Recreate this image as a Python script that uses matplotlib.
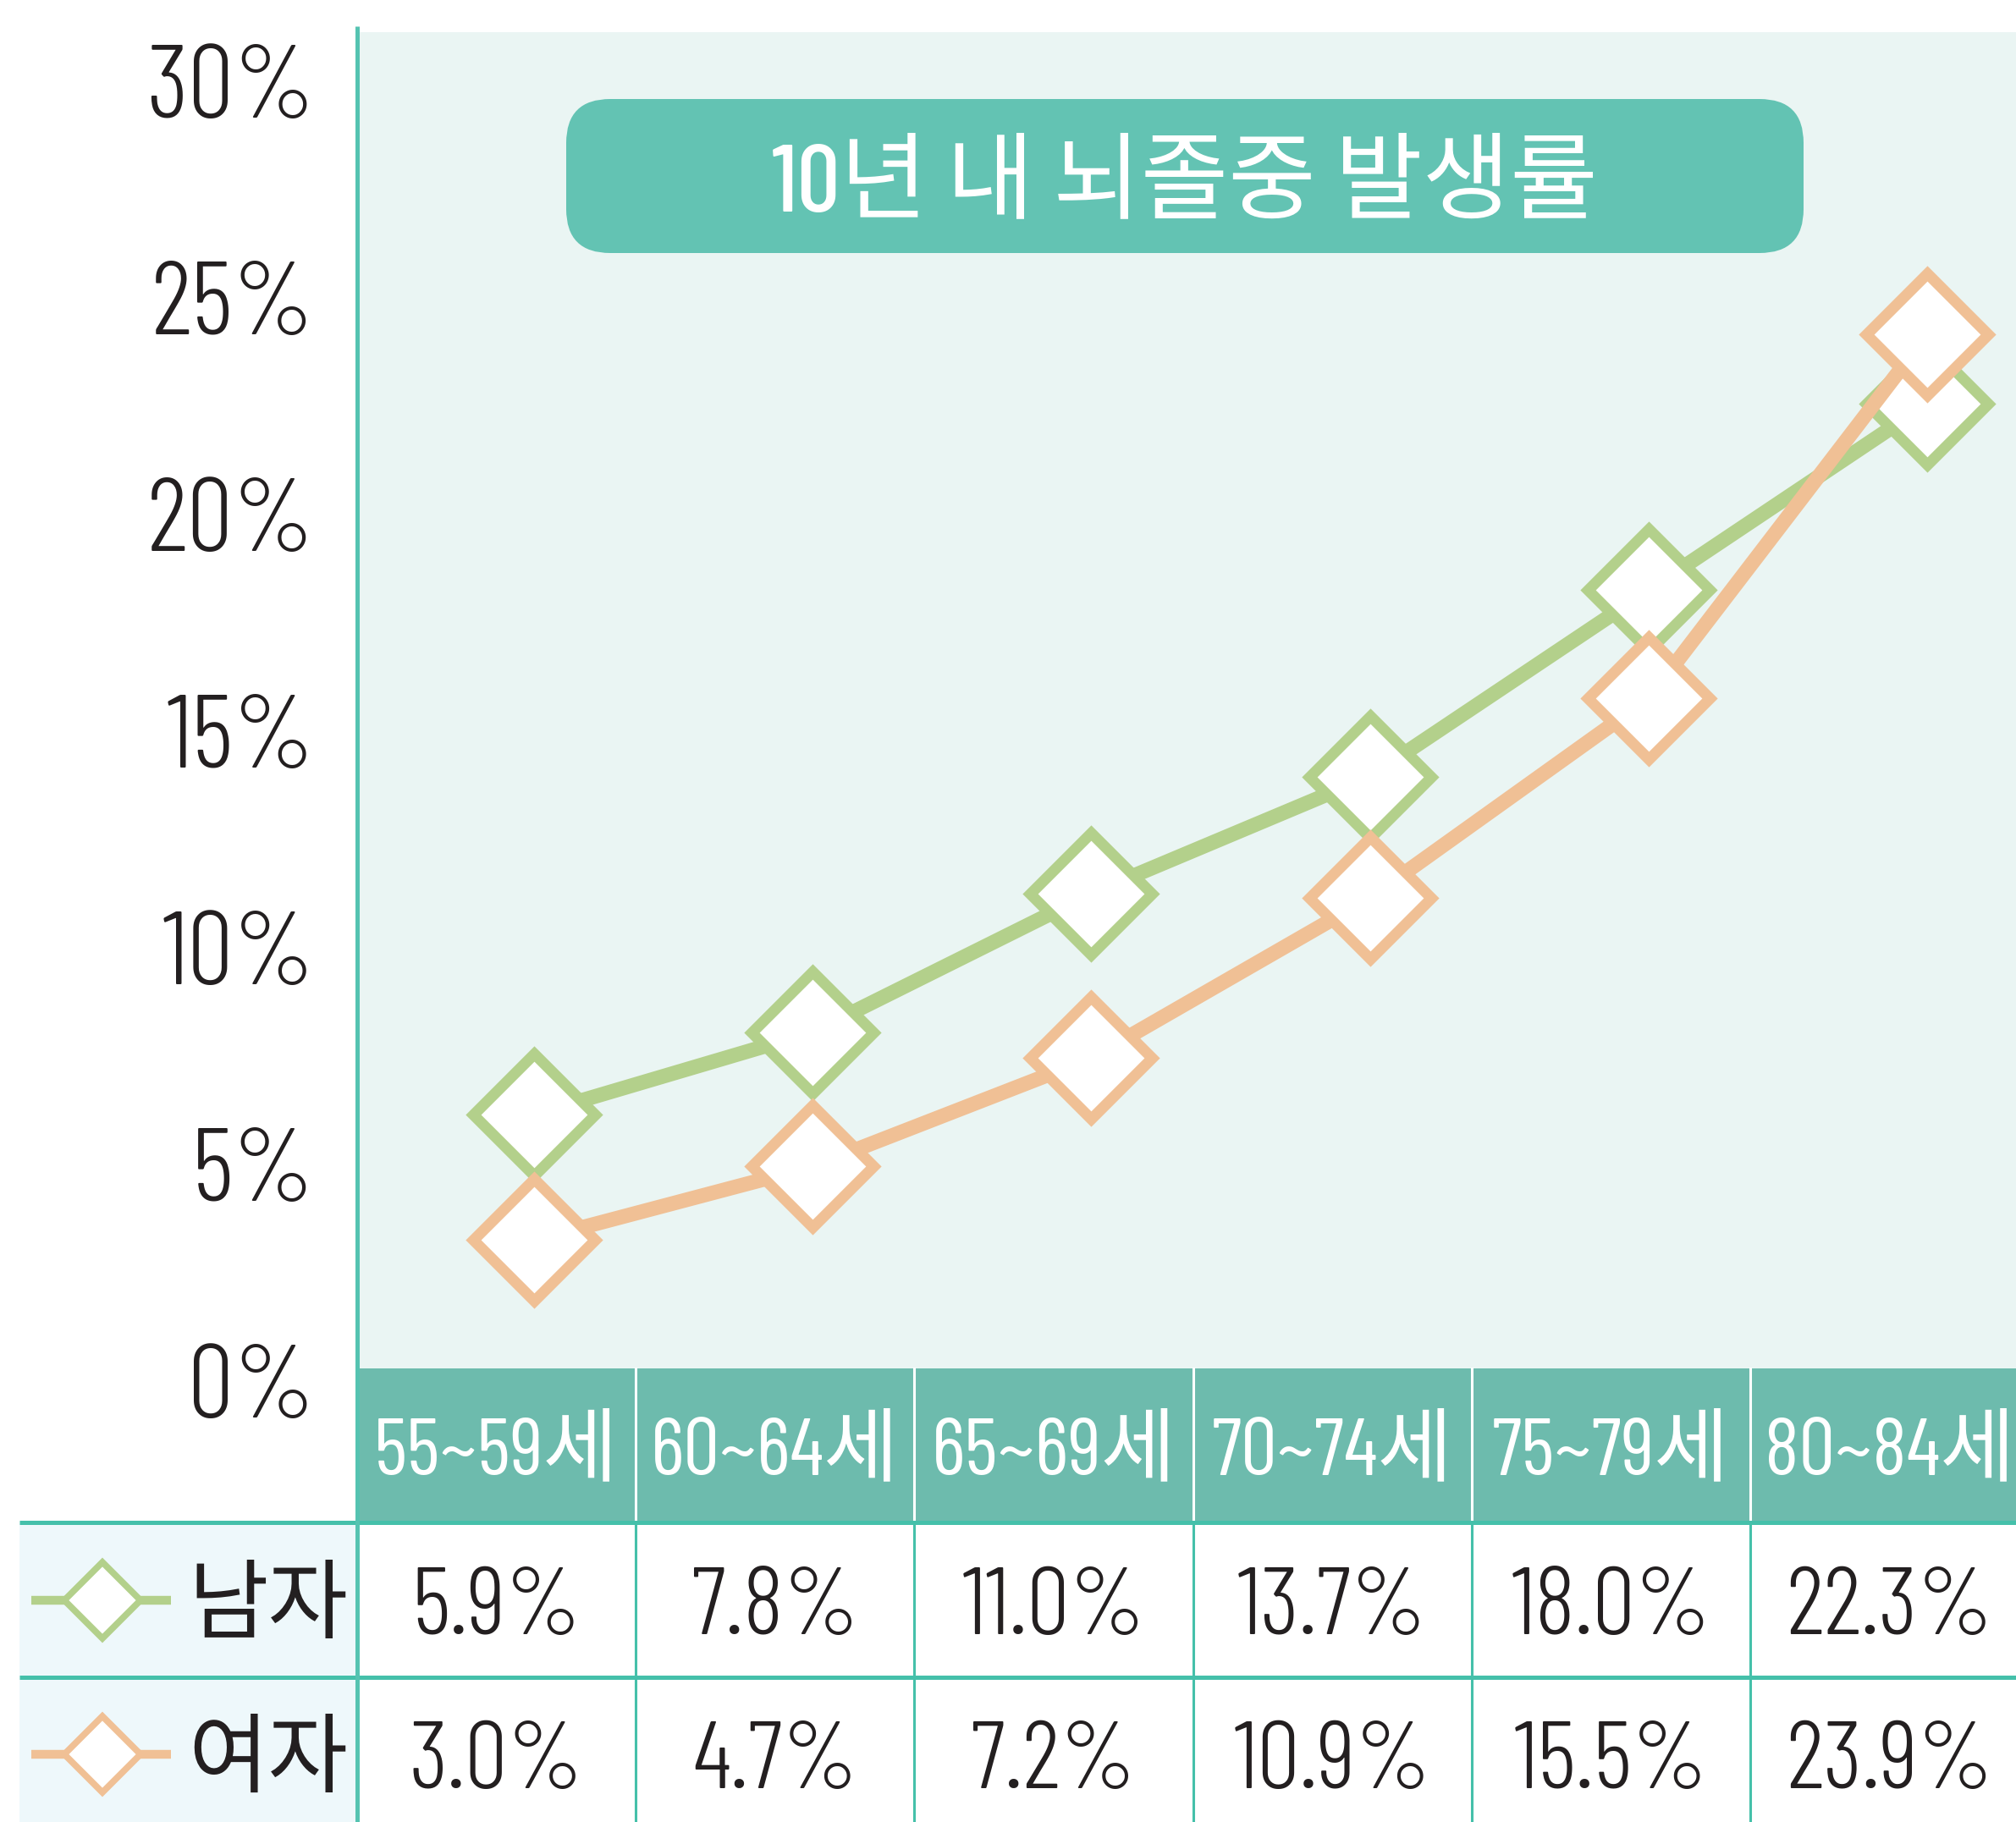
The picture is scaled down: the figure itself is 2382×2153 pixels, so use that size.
import logging
import matplotlib
matplotlib.use("Agg")
import matplotlib.pyplot as plt
from matplotlib.patches import Rectangle, FancyBboxPatch
from matplotlib.transforms import blended_transform_factory, ScaledTranslation

logging.getLogger("matplotlib.font_manager").setLevel(logging.ERROR)

# ---------------- data ----------------
age_groups = ["55~59세", "60~64세", "65~69세", "70~74세", "75~79세", "80~84세"]
male = [5.9, 7.8, 11.0, 13.7, 18.0, 22.3]
female = [3.0, 4.7, 7.2, 10.9, 15.5, 23.9]
series_names = ["남자", "여자"]
y_ticks = [0, 5, 10, 15, 20, 25, 30]
y_tick_labels = ["0%", "5%", "10%", "15%", "20%", "25%", "30%"]
title_text = "10년 내 뇌졸중 발생률"

# ---------------- style ----------------
GREEN = "#b3d08b"
ORANGE = "#f0c095"
PLOT_BG = "#eaf5f3"
HEADER_BG = "#6dbbad"
TEAL_LINE = "#45c0aa"
AXIS_LINE = "#55c3b1"
LEFT_BG = "#eef8fb"
TITLE_BG = "#63c3b3"
TEXT = "#231f20"

FONT = ["Barlow Condensed", "Noto Sans CJK KR", "Noto Sans CJK JP", "Noto Sans KR", "DejaVu Sans"]
KFONT = ["Noto Sans CJK KR", "Noto Sans CJK JP", "Noto Sans KR", "DejaVu Sans"]

W, H, DPI = 2382, 2153, 100
X0 = 422          # left edge of plot / table columns (px)
COLW = 329.2      # column width (px)
PLOT_TOP = 38
ZERO_Y = 1619     # pixel row of 0 %
PX_PER_PCT = 51.2
HEAD_TOP = 1617
HEAD_BOT = 1799
ROW1_BOT = 1982
TABLE_LEFT = 23
ROW_CENTERS = [1891, 2073]

fig = plt.figure(figsize=(W / DPI, H / DPI), dpi=DPI)
fig.patch.set_facecolor("white")

# ---------------- plot axes ----------------
ax = fig.add_axes([X0 / W, 1 - ZERO_Y / H, 1 - X0 / W, (ZERO_Y - PLOT_TOP) / H], zorder=1)
ax.set_facecolor(PLOT_BG)
ax.set_xlim(0, (W - X0) / COLW)
ax.set_ylim(0, (ZERO_Y - PLOT_TOP) / PX_PER_PCT)
for s in ax.spines.values():
    s.set_visible(False)
ax.set_xticks([])
ax.set_yticks([])

xs = [i + 0.635 for i in range(len(age_groups))]
for vals, col in ((male, GREEN), (female, ORANGE)):
    ax.plot(xs, vals, color=col, lw=12.5, marker="D", ms=73, mfc="white",
            mec=col, mew=9.3, clip_on=False)

# y tick labels (real text, placed by the y data scale)
lab_tr = ax.get_yaxis_transform() + ScaledTranslation(-0.50, -0.56, fig.dpi_scale_trans)
for t, lab in zip(y_ticks, y_tick_labels):
    ax.text(0, t, lab, transform=lab_tr, ha="right", va="baseline",
            fontsize=88, family=FONT, weight=300, color=TEXT, clip_on=False)

# ---------------- overlay axes (pixel coordinates) ----------------
axf = fig.add_axes([0, 0, 1, 1], zorder=2)
axf.set_xlim(0, W)
axf.set_ylim(H, 0)
axf.axis("off")
axf.patch.set_alpha(0)
tr = blended_transform_factory(ax.transData, axf.transData)
ncol = len(age_groups)

# title box
axf.add_patch(FancyBboxPatch((669, 117), 1462, 182,
                             boxstyle="round,pad=0,rounding_size=52",
                             fc=TITLE_BG, ec="none"))
axf.text(1400, 249, title_text, ha="center", va="baseline", fontsize=81,
         family=FONT, weight=500, color="white")

# header band
axf.add_patch(Rectangle((0, HEAD_TOP), ncol, HEAD_BOT - HEAD_TOP, transform=tr,
                        fc=HEADER_BG, ec="none", clip_on=False))
for i in range(1, ncol):
    axf.plot([i, i], [HEAD_TOP, HEAD_BOT], transform=tr, color="white", lw=2.2,
             clip_on=False)
for i, g in enumerate(age_groups):
    axf.text(i + 0.5, 1742, g, transform=tr, ha="center", va="baseline",
             fontsize=69, family=FONT, weight=400, color="white", clip_on=False)

# left label column background
axf.add_patch(Rectangle((TABLE_LEFT, HEAD_BOT), X0 - TABLE_LEFT, H - HEAD_BOT,
                        fc=LEFT_BG, ec="none"))

# table grid
for yy in (HEAD_BOT, ROW1_BOT):
    axf.plot([TABLE_LEFT, W], [yy, yy], color=TEAL_LINE, lw=3.6, solid_capstyle="butt")
for i in range(1, ncol + 1):
    axf.plot([i, i], [HEAD_BOT, H], transform=tr, color=TEAL_LINE, lw=2.2,
             clip_on=False)
# y axis line
axf.plot([X0, X0], [31, H], color=AXIS_LINE, lw=3.6, solid_capstyle="butt")

# table values and legend keys
for r, (vals, col, name) in enumerate(((male, GREEN, series_names[0]),
                                       (female, ORANGE, series_names[1]))):
    yc = ROW_CENTERS[r]
    for i, v in enumerate(vals):
        axf.text(i + 0.5, yc + 40, f"{v:.1f}%", transform=tr, ha="center",
                 va="baseline", fontsize=82, family=FONT, weight=300, color=TEXT)
    axf.plot([37, 202], [yc, yc], color=col, lw=7.5, solid_capstyle="butt")
    axf.plot([121], [yc], marker="D", ms=46, mfc="white", mec=col, mew=5.5)
    axf.text(222, yc + 37, name, ha="left", va="baseline", fontsize=74,
             family=KFONT, weight="light", color=TEXT)

fig.savefig("out.png", dpi=DPI)
